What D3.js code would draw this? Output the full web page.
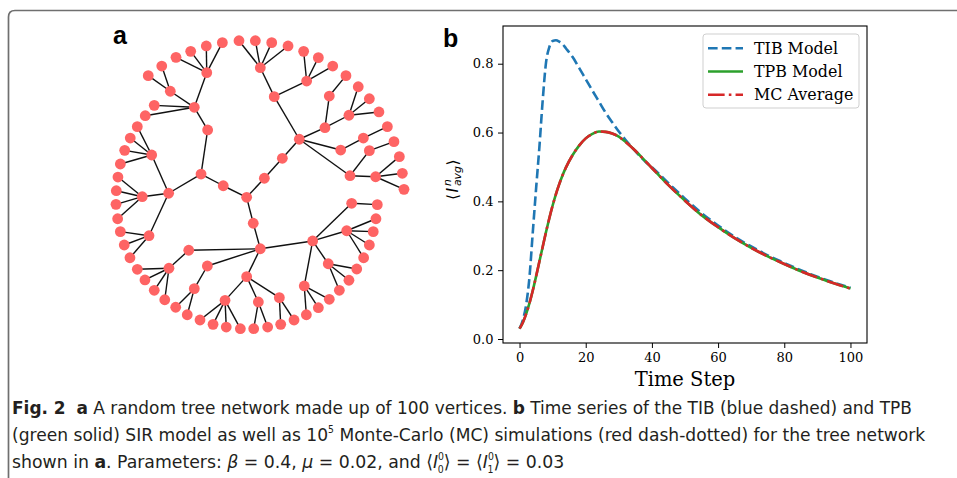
<!DOCTYPE html>
<html>
<head>
<meta charset="utf-8">
<script src="https://cdn.jsdelivr.net/npm/d3@7"></script>
<style>
html,body{margin:0;padding:0;background:#fff;}
svg{display:block;}
text{white-space:pre;}
</style>
</head>
<body>
<svg id="fig" width="957" height="478"></svg>
<script>
// ---------------- DATA ----------------
// Panel a: tree network layout (normalised layout coordinates) and edges (1-based ids)
const nodeX = [-0.560,-0.462,-0.358,-0.251,-0.140,-0.031,0.078,0.187,0.291,0.389,
  0.485,0.573,0.655,0.729,0.793,0.849,0.893,0.929,0.949,0.960,
  -0.655,-0.745,-0.705,-0.765,-0.818,-0.865,-0.902,-0.931,-0.947,-0.958,
  -0.355,-0.598,-0.438,-0.349,-0.722,-0.393,-0.609,-0.785,-0.245,-0.089,
  0.029,0.149,0.262,0.095,0.002,0.311,0.433,0.462,0.593,0.538,
  0.689,0.729,0.600,0.771,-0.960,-0.949,-0.740,-0.931,-0.905,-0.867,
  -0.045,0.002,-0.475,-0.607,-0.818,-0.767,-0.705,-0.635,-0.351,-0.438,
  -0.562,-0.485,-0.089,-0.233,-0.400,-0.313,-0.225,-0.131,-0.011,-0.042,
  0.051,0.129,0.138,0.227,0.351,0.611,0.782,0.578,0.773,0.755,
  0.729,0.691,0.455,0.645,0.593,0.529,0.295,0.309,0.389,0.462];
const nodeY = [-0.851,-0.891,-0.927,-0.949,-0.962,-0.962,-0.949,-0.927,-0.891,-0.849,
  -0.793,-0.729,-0.655,-0.575,-0.487,-0.389,-0.289,-0.189,-0.078,0.029,
  -0.793,-0.729,-0.531,-0.462,-0.389,-0.313,-0.231,-0.140,-0.053,0.038,
  -0.749,-0.625,-0.518,-0.367,-0.200,-0.073,0.055,0.078,0.005,0.082,
  -0.045,-0.178,-0.305,-0.589,-0.782,-0.693,-0.382,-0.593,-0.465,-0.233,
  -0.313,-0.229,-0.062,-0.055,0.129,0.225,0.338,0.311,0.400,0.485,
  0.255,0.425,0.435,0.555,0.562,0.633,0.702,0.765,0.540,0.691,
  0.815,0.865,0.611,0.769,0.900,0.929,0.947,0.958,0.780,0.958,
  0.947,0.751,0.929,0.900,0.373,0.122,0.131,0.305,0.225,0.311,
  0.400,0.485,0.525,0.560,0.635,0.702,0.673,0.865,0.818,0.762];
const edgeSource = [31,31,31,31,31,32,32,32,33,33,33,34,35,35,35,35,35,36,36,37,37,
  38,38,38,38,39,40,40,41,42,43,43,43,43,44,44,45,45,45,45,46,46,46,47,47,48,
  49,49,49,50,51,52,52,53,54,54,54,57,57,57,61,62,62,62,62,63,64,64,64,64,69,
  70,70,73,73,73,74,74,74,74,79,79,82,82,85,85,85,85,86,88,88,88,88,93,93,93,
  97,97,97];
const edgeTarget = [1,2,3,4,33,21,22,33,23,24,34,36,25,26,27,28,37,37,39,38,57,
  29,30,55,56,40,41,61,42,43,44,47,50,53,45,46,5,6,7,8,9,10,11,48,49,12,
  13,14,15,51,16,17,53,54,18,19,20,58,59,60,62,63,69,73,85,64,65,66,67,68,70,
  71,72,74,79,82,75,76,77,78,80,81,83,84,86,88,93,97,87,89,90,91,92,94,95,96,
  98,99,100];

// Panel b: time series
const timeSteps = [0,1,2,3,4,5,6,7,8,9,10,11,12,13,14,16,18,20,22,24,26,28,30,32,35,38,40,42,45,50,55,60,65,70,75,80,85,90,95,100];
const tibModel = [0.030,0.055,0.100,0.180,0.310,0.437,0.558,0.694,0.803,0.848,0.866,0.868,0.864,0.857,0.845,
  0.820,0.788,0.755,0.722,0.690,0.658,0.630,0.603,0.579,0.546,0.516,0.499,0.481,0.453,
  0.408,0.366,0.330,0.297,0.269,0.243,0.221,0.200,0.181,0.164,0.149];
const tpbModel = [0.030,0.048,0.073,0.104,0.141,0.182,0.225,0.268,0.311,0.351,0.388,0.421,0.450,0.476,0.498,
  0.534,0.562,0.583,0.596,0.603,0.602,0.597,0.588,0.573,0.547,0.517,0.497,0.477,0.447,
  0.402,0.360,0.325,0.293,0.265,0.240,0.218,0.197,0.179,0.162,0.147];
const mcAverage = [0.030,0.048,0.073,0.104,0.141,0.182,0.225,0.268,0.311,0.351,0.388,0.421,0.450,0.476,0.498,
  0.534,0.562,0.583,0.596,0.603,0.602,0.597,0.588,0.573,0.547,0.517,0.497,0.477,0.447,
  0.402,0.360,0.325,0.293,0.265,0.240,0.218,0.197,0.179,0.162,0.147];
const seriesNames = ["TIB Model","TPB Model","MC Average"];
const xTicks = [0,20,40,60,80,100];
const yTicks = [0.0,0.2,0.4,0.6,0.8];

// ---------------- DRAWING ----------------
const svg = d3.select("#fig");
svg.append("rect").attr("width",957).attr("height",478).attr("fill","#fff");

// outer frame
svg.append("path").attr("d","M8.5,478 L8.5,17 Q8.5,10.5 15,10.5 L957,10.5")
  .attr("fill","none").attr("stroke","#6f6f6f").attr("stroke-width",1.7);

// panel labels
svg.append("text").attr("x",113).attr("y",44).text("a")
  .attr("font-family","Liberation Sans, Arial, sans-serif").attr("font-weight","bold").attr("font-size",25);
svg.append("text").attr("x",443).attr("y",47).text("b")
  .attr("font-family","Liberation Sans, Arial, sans-serif").attr("font-weight","bold").attr("font-size",25);

// ---- Panel a: tree ----
const tx = d3.scaleLinear().domain([-1,1]).range([110,410]);
const ty = d3.scaleLinear().domain([-1,1]).range([35,335]);
const nodes = nodeX.map((x,i)=>({x:x,y:nodeY[i]}));
const edges = edgeSource.map((s,i)=>({s:nodes[s-1],t:nodes[edgeTarget[i]-1]}));
const gTree = svg.append("g");
gTree.selectAll("line.edge").data(edges).join("line")
  .attr("x1",d=>tx(d.s.x)).attr("y1",d=>ty(d.s.y))
  .attr("x2",d=>tx(d.t.x)).attr("y2",d=>ty(d.t.y))
  .attr("stroke","#111").attr("stroke-width",1.4);
gTree.selectAll("circle").data(nodes).join("circle")
  .attr("cx",d=>tx(d.x)).attr("cy",d=>ty(d.y)).attr("r",5.4)
  .attr("fill","#fe6464");

// ---- Panel b: line chart ----
const ax = {left:503, right:867, top:26, bottom:343};
const x = d3.scaleLinear().domain([-5,105]).range([ax.left,ax.right]);
const y = d3.scaleLinear().domain([-0.0116,0.9096]).range([ax.bottom,ax.top]);
const serif = "DejaVu Serif, serif";

svg.append("defs").append("clipPath").attr("id","clipb")
  .append("rect").attr("x",ax.left).attr("y",ax.top).attr("width",ax.right-ax.left).attr("height",ax.bottom-ax.top);

const lw = 2.6;
const styles = [
  {color:"#1f77b4", dash:[3.7*lw,1.6*lw].join(","), data:tibModel},
  {color:"#2ca02c", dash:null, data:tpbModel},
  {color:"#d62728", dash:[6.4*lw,1.6*lw,1*lw,1.6*lw].join(","), data:mcAverage}
];
const line = d3.line().x(d=>x(d[0])).y(d=>y(d[1])).curve(d3.curveMonotoneX);
const gLines = svg.append("g").attr("clip-path","url(#clipb)");
styles.forEach(s=>{
  gLines.append("path").datum(timeSteps.map((t,i)=>[t,s.data[i]]))
    .attr("d",line).attr("fill","none").attr("stroke",s.color)
    .attr("stroke-width",lw).attr("stroke-dasharray",s.dash)
    .attr("stroke-linejoin","round");
});

// axes
const xAxis = svg.append("g").attr("transform",`translate(0,${ax.bottom})`)
  .call(d3.axisBottom(x).tickValues(xTicks).tickSize(5).tickPadding(5).tickFormat(d3.format("d")));
const yAxis = svg.append("g").attr("transform",`translate(${ax.left},0)`)
  .call(d3.axisLeft(y).tickValues(yTicks).tickSize(5).tickPadding(4.5).tickFormat(d3.format(".1f")));
[xAxis,yAxis].forEach(g=>{
  g.select(".domain").remove();
  g.selectAll("line").attr("stroke","#000").attr("stroke-width",1);
  g.selectAll("text").attr("font-family",serif).attr("font-size",13).attr("fill","#000");
});
svg.append("rect").attr("x",ax.left).attr("y",ax.top).attr("width",ax.right-ax.left).attr("height",ax.bottom-ax.top)
  .attr("fill","none").attr("stroke","#000").attr("stroke-width",1.1);

// x label
svg.append("text").attr("x",(ax.left+ax.right)/2).attr("y",386).attr("text-anchor","middle")
  .attr("font-family",serif).attr("font-size",19.5).text("Time Step");

// y label (mathtext-like)
const gy = svg.append("g").attr("transform","translate(458,180) rotate(-90)")
  .attr("font-family","DejaVu Sans, sans-serif").attr("fill","#000");
gy.append("text").attr("x",-20).attr("y",0).attr("font-size",15.5).text("\u27E8");
gy.append("text").attr("x",-12.5).attr("y",0).attr("font-size",15.5).attr("font-style","italic").text("I");
gy.append("text").attr("x",-6).attr("y",-6.8).attr("font-size",10.8).attr("font-style","italic").text("n");
gy.append("text").attr("x",-6).attr("y",3.2).attr("font-size",10.8).attr("font-style","italic").text("avg");
gy.append("text").attr("x",14.5).attr("y",0).attr("font-size",15.5).text("\u27E9");

// legend
const lg = svg.append("g");
lg.append("rect").attr("x",703).attr("y",34).attr("width",156).attr("height",74).attr("rx",3)
  .attr("fill","#fff").attr("fill-opacity",0.8).attr("stroke","#cfcfcf").attr("stroke-width",1);
const legendY = d3.scalePoint().domain(seriesNames).range([48.3,94.7]);
seriesNames.forEach((name,i)=>{
  const yy = legendY(name);
  lg.append("line").attr("x1",708).attr("x2",743).attr("y1",yy).attr("y2",yy)
    .attr("stroke",styles[i].color).attr("stroke-width",lw).attr("stroke-dasharray",styles[i].dash);
  lg.append("text").attr("x",754).attr("y",yy+5.6).attr("font-family",serif).attr("font-size",15.9).text(name);
});

// ---- Caption ----
const capFont = "'Liberation Sans Narrow', 'DejaVu Sans Condensed', 'Roboto Condensed', 'Open Sans', sans-serif";
const capLines = [
  {y:414, w:901, parts:[{t:"Fig. 2",b:1},{t:"  "},{t:"a",b:1},{t:" A random tree network made up of 100 vertices. "},{t:"b",b:1},{t:" Time series of the TIB (blue dashed) and TPB"}]},
  {y:441, w:914, parts:[{t:"(green solid) SIR model as well as 10"},{t:"5",sup:1},{t:" Monte-Carlo (MC) simulations (red dash-dotted) for the tree network"}]},
  {y:468, w:565, parts:[{t:"shown in "},{t:"a",b:1},{t:". Parameters: "},{t:"\u03B2",i:1},{t:" = 0.4, "},{t:"\u03BC",i:1},{t:" = 0.02, and \u27E8"},
    {t:"I",i:1},{t:"0",sup:1},{t:"0",sub:1},{t:"\u27E9 = \u27E8"},{t:"I",i:1},{t:"0",sup:1},{t:"1",sub:1},{t:"\u27E9 = 0.03"}]}
];
capLines.forEach(L=>{
  const g = svg.append("g");
  const t = g.append("text").attr("x",0).attr("y",0).attr("font-family",capFont).attr("font-size",18.5).attr("fill","#231f20");
  let state = 0; // 0 baseline, 1 sup, -1 sub
  L.parts.forEach(p=>{
    const s = t.append("tspan").text(p.t);
    if(p.b) s.attr("font-weight","bold");
    if(p.i) s.attr("font-style","italic");
    if(p.sup){ s.attr("font-size",10).attr("dy", state===-1?-12.5:-8); state=1; }
    else if(p.sub){ s.attr("font-size",10).attr("dx",-6).attr("dy", state===1?12.5:4.5); state=-1; }
    else if(state!==0){ s.attr("dy", state===1?8:-4.5); state=0; }
  });
  const w = t.node().getComputedTextLength();
  g.attr("transform",`translate(12,${L.y}) scale(${L.w/w},1)`);
});
</script>
</body>
</html>
